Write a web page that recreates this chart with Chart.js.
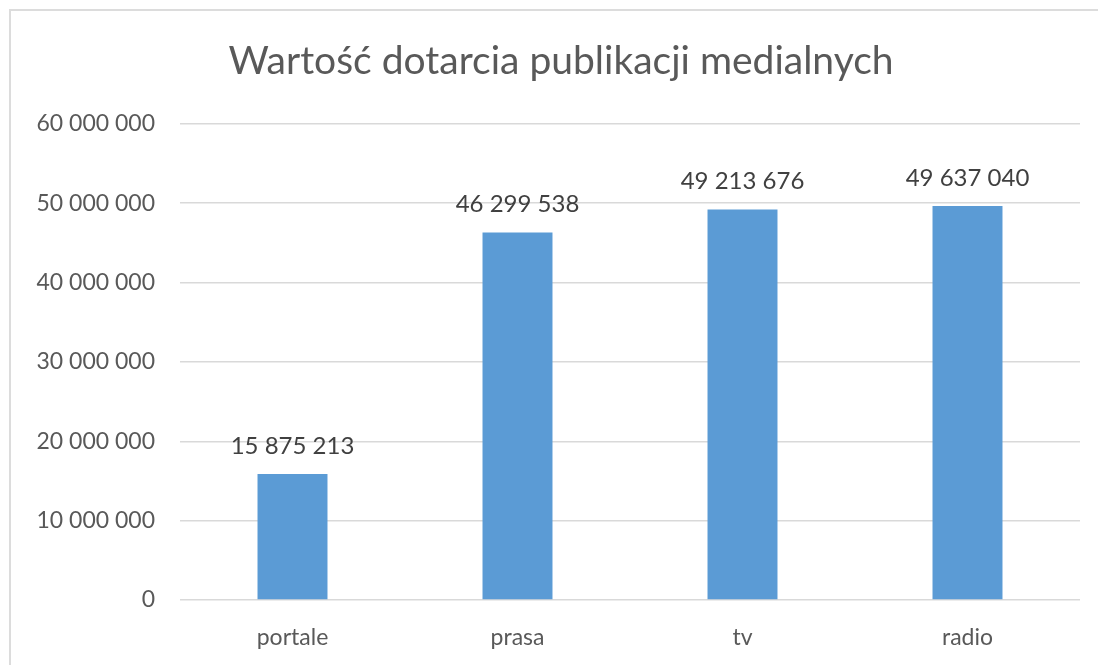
<!DOCTYPE html>
<html>
<head>
<meta charset="utf-8">
<script src="https://cdn.jsdelivr.net/npm/chart.js@4/dist/chart.umd.min.js"></script>
<style>
  html, body { margin: 0; padding: 0; background: #fff; }
  #wrap { width: 1098px; height: 665px; position: relative; }
</style>
</head>
<body>
<div id="wrap"><canvas id="c"></canvas></div>
<script>
const FONT = "Lato, 'Open Sans', sans-serif";
Chart.defaults.font.family = FONT;
Chart.defaults.color = '#595959';

const TITLE = 'Wartość dotarcia publikacji medialnych';
const categories = ['portale', 'prasa', 'tv', 'radio'];
const values = [15875213, 46299538, 49213676, 49637040];
const yTicks = [0, 10000000, 20000000, 30000000, 40000000, 50000000, 60000000];

// 60000000 -> "60 000 000"
const spaced = (v) => String(Math.round(v)).replace(/\B(?=(\d{3})+(?!\d))/g, ' ');

// light frame on top/left edge, like the cropped Excel chart border
const framePlugin = {
  id: 'frame',
  beforeDraw(chart) {
    const { ctx, width, height } = chart;
    ctx.save();
    ctx.strokeStyle = '#dcdcdc';
    ctx.lineWidth = 2;
    ctx.beginPath();
    ctx.moveTo(10, height);
    ctx.lineTo(10, 10);
    ctx.lineTo(width, 10);
    ctx.stroke();
    ctx.restore();
  },
};

const valueLabels = {
  id: 'valueLabels',
  afterDatasetsDraw(chart) {
    const { ctx } = chart;
    const meta = chart.getDatasetMeta(0);
    ctx.save();
    ctx.font = `24px ${FONT}`;
    ctx.fillStyle = '#404040';
    ctx.textAlign = 'center';
    ctx.textBaseline = 'middle';
    meta.data.forEach((bar, i) => {
      ctx.fillText(spaced(values[i]), bar.x, bar.y - 28);
    });
    ctx.restore();
  },
};

new Chart(document.getElementById('c'), {
  type: 'bar',
  data: {
    labels: categories,
    datasets: [{
      data: values,
      backgroundColor: '#5B9BD5',
      barPercentage: 0.311,
      categoryPercentage: 1,
      yAxisID: 'y',
    }],
  },
  options: {
    responsive: true,
    maintainAspectRatio: false,
    animation: false,
    layout: { padding: { left: 24, right: 0, top: 0, bottom: 14 } },
    plugins: {
      legend: { display: false },
      tooltip: { enabled: false },
      title: {
        display: true,
        text: TITLE,
        color: '#595959',
        font: { size: 39, weight: 'normal' },
        padding: { top: 38, bottom: 39 },
      },
    },
    scales: {
      x: {
        grid: { display: false, drawTicks: false },
        border: { display: false },
        ticks: { font: { size: 23 }, padding: 24, color: '#595959' },
        afterFit: (s) => { s.height = 51; },
      },
      y: {
        min: 0,
        max: 60000000,
        afterBuildTicks: (s) => { s.ticks = yTicks.map((v) => ({ value: v })); },
        grid: { color: '#d9d9d9', lineWidth: 1.5, drawTicks: false },
        border: { display: false },
        ticks: { font: { size: 23 }, padding: 25, color: '#595959', callback: (v) => spaced(v) },
        afterFit: (s) => { s.width = 156; },
      },
      // empty right gutter so the title centres like the original frame
      gutter: {
        position: 'right',
        display: true,
        grid: { display: false, drawTicks: false },
        border: { display: false },
        ticks: { display: false },
        afterFit: (s) => { s.width = 18; },
      },
    },
  },
  plugins: [framePlugin, valueLabels],
});
</script>
</body>
</html>
